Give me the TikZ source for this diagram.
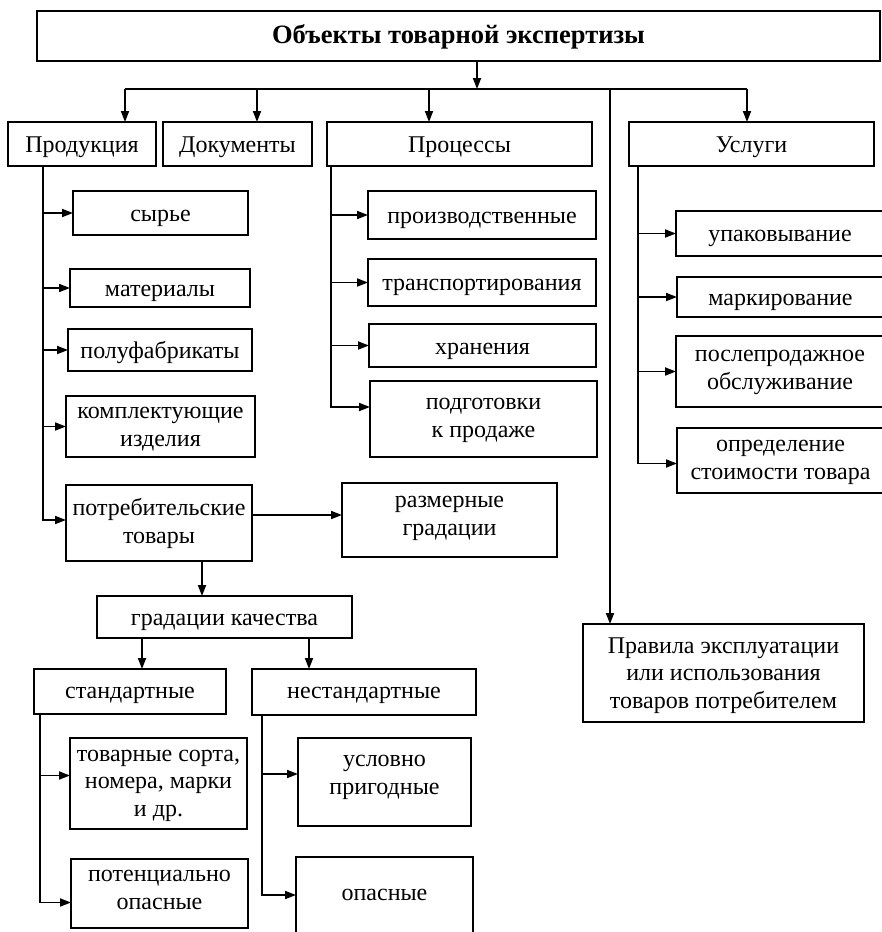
\documentclass[tikz,border=0pt]{standalone}
\usepackage{fontspec}
\setmainfont{Liberation Serif}
\usetikzlibrary{arrows.meta}
\tikzset{
  box/.style={draw, line width=1.8pt, inner sep=0pt, outer sep=0pt},
  txt/.style={align=center, inner sep=0pt, font=\fontsize{24}{27.5}\selectfont, execute at begin node=\strut},
  conn/.style={line width=1.8pt},
  arr/.style={conn, -{Triangle[length=11pt,width=8pt]}},
}
\newcommand\bx[7]{%
  \node[box,minimum width={#4-#2},minimum height={#5-#3}] (#1) at ({(#2+#4)/2},{(#3+#5)/2}) {};
  \node[txt] (#1t) at ({(#2+#4)/2},{#6+3}) {#7};}
\newcommand\nl{\\\strut}
\begin{document}
\begin{tikzpicture}[x=1pt,y=-1pt]
\useasboundingbox (0,0) rectangle (882,932);
\bx{title}{37}{11}{880}{61}{35}{{\fontsize{26.5}{30}\selectfont\bfseries Объекты товарной экспертизы}}
\bx{prod}{8}{122}{156}{166}{144}{Продукция}
\bx{docs}{163}{122}{312}{166}{144}{Документы}
\bx{proc}{327}{122}{592}{166}{144}{Процессы}
\bx{usl}{629}{122}{874}{166}{144}{Услуги}
\bx{syr}{73}{191}{248}{235}{213}{сырье}
\bx{mat}{70}{269}{250}{307}{288}{материалы}
\bx{polu}{68}{329}{252}{371}{350}{полуфабрикаты}
\bx{kompl}{66}{396}{255}{457}{428}{комплектующие\nl изделия}
\bx{potr}{66}{485}{252}{561}{522}{потребительские\nl товары}
\bx{razm}{342}{483}{557}{557}{517}{размерные\nl градации}
\bx{grad}{97}{596}{352}{638}{617}{градации качества}
\bx{std}{34}{669}{226}{714}{690}{стандартные}
\bx{nstd}{252}{669}{476}{715}{690}{нестандартные}
\bx{tov}{70}{738}{247}{829}{784}{товарные сорта,\nl номера, марки\nl и др.}
\bx{pot}{71}{859}{248}{928}{891}{потенциально\nl опасные}
\bx{uslp}{298}{738}{471}{826}{776}{условно\nl пригодные}
\bx{opas}{296}{857}{473}{945}{892}{опасные}
\bx{prz}{368}{191}{596}{239}{215}{производственные}
\bx{trn}{368}{259}{596}{306}{282}{транспортирования}
\bx{hran}{369}{324}{596}{367}{346}{хранения}
\bx{podg}{370}{381}{597}{457}{419}{подготовки\nl к продаже}
\bx{upak}{676}{211}{884}{256}{233}{упаковывание}
\bx{mark}{677}{277}{884}{317}{297}{маркирование}
\bx{posl}{676}{336}{884}{407}{371}{послепродажное\nl обслуживание}
\bx{opred}{677}{428}{884}{493}{461}{определение\nl стоимости товара}
\bx{prav}{583}{624}{864}{722}{674}{Правила эксплуатации\nl или использования\nl товаров потребителем}
% top bus
\coordinate (busT) at (477,89);
\coordinate (bProd) at (125,89);
\coordinate (bDocs) at (257,89);
\coordinate (bProc) at (429,89);
\coordinate (bPrav) at (610,89);
\coordinate (bUsl) at (747,89);
\draw[arr] (title.south -| busT) -- (busT);
\draw[conn] (bProd) -- (bUsl);
\draw[arr] (bProd) -- (bProd |- prod.north);
\draw[arr] (bDocs) -- (bDocs |- docs.north);
\draw[arr] (bProc) -- (bProc |- proc.north);
\draw[arr] (bUsl) -- (bUsl |- usl.north);
\draw[arr] (bPrav) -- (bPrav |- prav.north);
% products
\coordinate (pX) at (43,0);
\coordinate (potrA) at ([yshift=3pt]potr.west);
\draw[arr] (prod.south -| pX) |- (potrA);
\foreach \n in {syr,mat,polu,kompl} \draw[arr] (pX |- \n.west) -- (\n.west);
\coordinate (razmA) at ([yshift=5pt]razm.west);
\draw[arr] (potr.east |- razmA) -- (razmA);
\coordinate (gX) at (202,0);
\draw[arr] (potr.south -| gX) -- (grad.north -| gX);
\coordinate (sA) at (142,0);
\coordinate (nA) at (309,0);
\draw[arr] (grad.south -| sA) -- (std.north -| sA);
\draw[arr] (grad.south -| nA) -- (nstd.north -| nA);
% standard
\coordinate (sX) at (40,0);
\coordinate (tovA) at ([yshift=8pt]tov.west);
\coordinate (potA) at ([yshift=-9pt]pot.west);
\draw[arr] (std.south -| sX) |- (potA);
\draw[arr] (sX |- tovA) -- (tovA);
% non-standard
\coordinate (nX) at (262,0);
\coordinate (uslA) at ([yshift=8pt]uslp.west);
\coordinate (opasA) at ([yshift=6pt]opas.west);
\draw[arr] (nstd.south -| nX) |- (opasA);
\draw[arr] (nX |- uslA) -- (uslA);
% processes
\coordinate (cX) at (331,0);
\coordinate (podgA) at ([yshift=12pt]podg.west);
\draw[arr] (proc.south -| cX) |- (podgA);
\foreach \n in {prz,trn,hran} \draw[arr] (cX |- \n.west) -- (\n.west);
% services
\coordinate (uX) at (638,0);
\coordinate (opredA) at ([yshift=-3pt]opred.west);
\draw[arr] (usl.south -| uX) |- (opredA);
\foreach \n in {upak,mark,posl} \draw[arr] (uX |- \n.west) -- (\n.west);
\end{tikzpicture}
\end{document}
